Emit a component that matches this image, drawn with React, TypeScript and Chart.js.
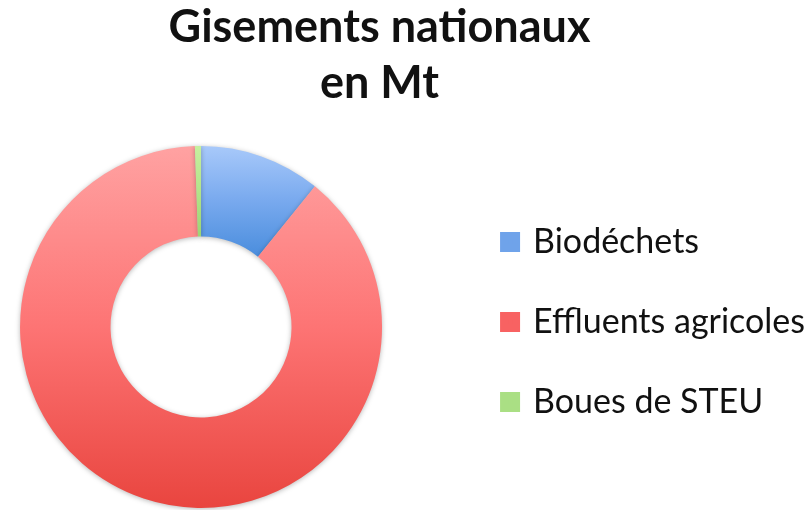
import { useEffect, useRef } from "react";
import { Chart, registerables } from "chart.js";

Chart.register(...registerables);

const categories = ["Biodéchets", "Effluents agricoles", "Boues de STEU"];
const values = [22, 180, 1.1];
const titleLines = ["Gisements nationaux", "en Mt"];
const topColors = ["#a8c9fa", "#ffa2a2", "#c6f0a0"];
const midColors = ["#78a9ee", "#fd7474", "#b2e48a"];
const bottomColors = ["#4a8ddd", "#e9453f", "#9cd474"];
const legendColors = ["#6fa3ea", "#f86262", "#aadf84"];

const CUTOUT = 0.5;
const CANVAS_W = 871;
const CANVAS_SHIFT = 56;

function sliceYRange(i: number, cy: number, R: number, r: number): [number, number] {
  const total = values.reduce((a, b) => a + b, 0);
  let start = 0;
  for (let j = 0; j < i; j++) start += (values[j] / total) * Math.PI * 2;
  const end = start + (values[i] / total) * Math.PI * 2;
  const ys: number[] = [];
  for (const rad of [R, r]) {
    for (const t of [start, end]) ys.push(cy - rad * Math.cos(t));
  }
  if (start <= 1e-6 || end >= Math.PI * 2 - 1e-6) ys.push(cy - R);
  if (start <= Math.PI && end >= Math.PI) ys.push(cy + R);
  return [Math.min(...ys), Math.max(...ys)];
}

export default function App() {
  const ref = useRef<HTMLCanvasElement | null>(null);

  useEffect(() => {
    if (!ref.current) return;
    const defaultGen = (Chart as any).overrides.doughnut.plugins.legend.labels.generateLabels;

    const shadowPlugin = {
      id: "arcShadow",
      beforeDatasetsDraw(chart: any) {
        const ctx = chart.ctx;
        ctx.save();
        ctx.shadowColor = "rgba(0,0,0,0.28)";
        ctx.shadowBlur = 5;
        ctx.shadowOffsetX = 0;
        ctx.shadowOffsetY = 1;
      },
      afterDatasetsDraw(chart: any) {
        chart.ctx.restore();
      },
    };

    const chart = new Chart(ref.current, {
      type: "doughnut",
      data: {
        labels: categories,
        datasets: [
          {
            data: values,
            borderWidth: 0,
            backgroundColor: (c: any) => {
              const chart = c.chart;
              const a = chart.chartArea;
              const i = c.dataIndex;
              if (!a || i === undefined) return midColors[i ?? 0];
              const cy = (a.top + a.bottom) / 2;
              const R = Math.min(a.right - a.left, a.bottom - a.top) / 2;
              const [y0, y1] = sliceYRange(i, cy, R, R * CUTOUT);
              const g = chart.ctx.createLinearGradient(0, y0, 0, y1);
              g.addColorStop(0, topColors[i]);
              g.addColorStop(0.5, midColors[i]);
              g.addColorStop(1, bottomColors[i]);
              return g;
            },
          },
        ],
      },
      options: {
        responsive: false,
        animation: false,
        events: [],
        cutout: "50%",
        layout: { padding: { left: 0, right: 0, top: 0, bottom: 2 } },
        plugins: {
          title: {
            display: true,
            text: titleLines,
            color: "#111111",
            font: { family: "Lato", weight: "bold", size: 45, lineHeight: 1.25 },
            padding: { top: -1, bottom: 34.5 },
          },
          legend: {
            display: true,
            position: "right",
            fullSize: false,
            title: {
              display: true,
              text: " ",
              font: { size: 1, lineHeight: 1 },
              padding: { top: 0, bottom: -11 },
            },
            labels: {
              color: "#111111",
              font: { family: "Lato", size: 34 },
              boxWidth: 12,
              boxHeight: 12,
              padding: 46,
              generateLabels: (ch: any) => {
                const items = defaultGen(ch);
                return items.map((it: any, i: number) => ({
                  ...it,
                  fillStyle: legendColors[i],
                  strokeStyle: legendColors[i],
                  lineWidth: 8,
                }));
              },
            },
          },
          tooltip: { enabled: false },
        },
      },
      plugins: [shadowPlugin],
    } as any);

    return () => chart.destroy();
  }, []);

  return (
    <div
      style={{
        position: "absolute",
        left: 0,
        top: 0,
        width: 809,
        height: 510,
        overflow: "hidden",
        background: "#ffffff",
      }}
    >
      <canvas
        ref={ref}
        width={CANVAS_W}
        height={510}
        style={{ display: "block", position: "absolute", left: -CANVAS_SHIFT, top: 0 }}
      />
    </div>
  );
}
